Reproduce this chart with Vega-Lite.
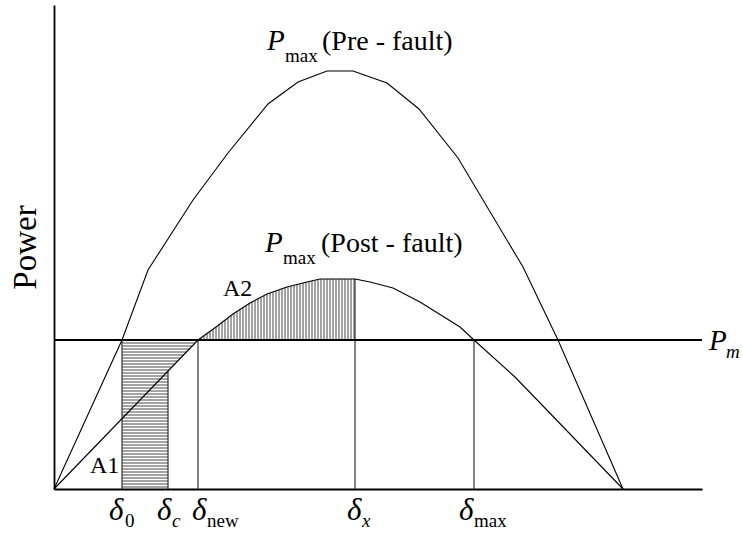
{
  "$schema": "https://vega.github.io/schema/vega-lite/v6.json",
  "width": 648,
  "height": 484,
  "autosize": "none",
  "padding": {"left": 54, "top": 5, "right": 41, "bottom": 46},
  "config": {"view": {"stroke": null}, "font": "Liberation Serif"},
  "datasets": {
    "curves": [
      {"curve": "pre", "x": 0, "y": 0}, {"curve": "pre", "x": 68, "y": 149}, {"curve": "pre", "x": 94, "y": 219},
      {"curve": "pre", "x": 139, "y": 289}, {"curve": "pre", "x": 174, "y": 336}, {"curve": "pre", "x": 214, "y": 385},
      {"curve": "pre", "x": 244, "y": 407}, {"curve": "pre", "x": 273, "y": 418}, {"curve": "pre", "x": 299, "y": 418},
      {"curve": "pre", "x": 333, "y": 406}, {"curve": "pre", "x": 365, "y": 380}, {"curve": "pre", "x": 404, "y": 331},
      {"curve": "pre", "x": 469, "y": 222}, {"curve": "pre", "x": 504, "y": 149}, {"curve": "pre", "x": 569, "y": 0},
      {"curve": "post", "x": 0, "y": 0}, {"curve": "post", "x": 144, "y": 149}, {"curve": "post", "x": 162, "y": 162},
      {"curve": "post", "x": 179, "y": 175}, {"curve": "post", "x": 196, "y": 186}, {"curve": "post", "x": 213, "y": 195},
      {"curve": "post", "x": 233, "y": 202}, {"curve": "post", "x": 253, "y": 207}, {"curve": "post", "x": 266, "y": 210},
      {"curve": "post", "x": 301, "y": 210}, {"curve": "post", "x": 316, "y": 207}, {"curve": "post", "x": 339, "y": 201},
      {"curve": "post", "x": 366, "y": 187}, {"curve": "post", "x": 406, "y": 162}, {"curve": "post", "x": 420, "y": 149},
      {"curve": "post", "x": 461, "y": 112}, {"curve": "post", "x": 489, "y": 83}, {"curve": "post", "x": 569, "y": 0}
    ],
    "pm": [{"x": 0, "x2": 648, "y": 149}],
    "verticals": [
      {"x": 68, "y": 0, "y2": 149}, {"x": 114, "y": 0, "y2": 118}, {"x": 144, "y": 0, "y2": 149},
      {"x": 301, "y": 0, "y2": 210}, {"x": 420, "y": 0, "y2": 149}
    ],
    "hatchA1": [
      {"y": 146, "x": 68, "x2": 141.1}, {"y": 143, "x": 68, "x2": 138.2}, {"y": 140, "x": 68, "x2": 135.3},
      {"y": 137, "x": 68, "x2": 132.4}, {"y": 134, "x": 68, "x2": 129.5}, {"y": 131, "x": 68, "x2": 126.6},
      {"y": 128, "x": 68, "x2": 123.7}, {"y": 125, "x": 68, "x2": 120.8}, {"y": 122, "x": 68, "x2": 117.9},
      {"y": 119, "x": 68, "x2": 115.0}, {"y": 116, "x": 68, "x2": 114}, {"y": 113, "x": 68, "x2": 114},
      {"y": 110, "x": 68, "x2": 114}, {"y": 107, "x": 68, "x2": 114}, {"y": 104, "x": 68, "x2": 114},
      {"y": 101, "x": 68, "x2": 114}, {"y": 98, "x": 68, "x2": 114}, {"y": 95, "x": 68, "x2": 114},
      {"y": 92, "x": 68, "x2": 114}, {"y": 89, "x": 68, "x2": 114}, {"y": 86, "x": 68, "x2": 114},
      {"y": 83, "x": 68, "x2": 114}, {"y": 80, "x": 68, "x2": 114}, {"y": 77, "x": 68, "x2": 114},
      {"y": 74, "x": 68, "x2": 114}, {"y": 71, "x": 68, "x2": 114}, {"y": 68, "x": 68, "x2": 114},
      {"y": 65, "x": 68, "x2": 114}, {"y": 62, "x": 68, "x2": 114}, {"y": 59, "x": 68, "x2": 114},
      {"y": 56, "x": 68, "x2": 114}, {"y": 53, "x": 68, "x2": 114}, {"y": 50, "x": 68, "x2": 114},
      {"y": 47, "x": 68, "x2": 114}, {"y": 44, "x": 68, "x2": 114}, {"y": 41, "x": 68, "x2": 114},
      {"y": 38, "x": 68, "x2": 114}, {"y": 35, "x": 68, "x2": 114}, {"y": 32, "x": 68, "x2": 114},
      {"y": 29, "x": 68, "x2": 114}, {"y": 26, "x": 68, "x2": 114}, {"y": 23, "x": 68, "x2": 114},
      {"y": 20, "x": 68, "x2": 114}, {"y": 17, "x": 68, "x2": 114}, {"y": 14, "x": 68, "x2": 114},
      {"y": 11, "x": 68, "x2": 114}, {"y": 8, "x": 68, "x2": 114}, {"y": 5, "x": 68, "x2": 114},
      {"y": 2, "x": 68, "x2": 114}
    ],
    "hatchA2": [
      {"x": 147, "y": 149, "y2": 151.2}, {"x": 150, "y": 149, "y2": 153.3}, {"x": 153, "y": 149, "y2": 155.5},
      {"x": 156, "y": 149, "y2": 157.7}, {"x": 159, "y": 149, "y2": 159.8}, {"x": 162, "y": 149, "y2": 162},
      {"x": 165, "y": 149, "y2": 164.3}, {"x": 168, "y": 149, "y2": 166.6}, {"x": 171, "y": 149, "y2": 168.9},
      {"x": 174, "y": 149, "y2": 171.2}, {"x": 177, "y": 149, "y2": 173.5}, {"x": 180, "y": 149, "y2": 175.6},
      {"x": 183, "y": 149, "y2": 177.6}, {"x": 186, "y": 149, "y2": 179.5}, {"x": 189, "y": 149, "y2": 181.5},
      {"x": 192, "y": 149, "y2": 183.4}, {"x": 195, "y": 149, "y2": 185.4}, {"x": 198, "y": 149, "y2": 187.1},
      {"x": 201, "y": 149, "y2": 188.6}, {"x": 204, "y": 149, "y2": 190.2}, {"x": 207, "y": 149, "y2": 191.8},
      {"x": 210, "y": 149, "y2": 193.4}, {"x": 213, "y": 149, "y2": 195}, {"x": 216, "y": 149, "y2": 196.1},
      {"x": 219, "y": 149, "y2": 197.1}, {"x": 222, "y": 149, "y2": 198.2}, {"x": 225, "y": 149, "y2": 199.2},
      {"x": 228, "y": 149, "y2": 200.3}, {"x": 231, "y": 149, "y2": 201.3}, {"x": 234, "y": 149, "y2": 202.3},
      {"x": 237, "y": 149, "y2": 203}, {"x": 240, "y": 149, "y2": 203.8}, {"x": 243, "y": 149, "y2": 204.5},
      {"x": 246, "y": 149, "y2": 205.3}, {"x": 249, "y": 149, "y2": 206}, {"x": 252, "y": 149, "y2": 206.8},
      {"x": 255, "y": 149, "y2": 207.5}, {"x": 258, "y": 149, "y2": 208.2}, {"x": 261, "y": 149, "y2": 208.8},
      {"x": 264, "y": 149, "y2": 209.5}, {"x": 267, "y": 149, "y2": 210}, {"x": 270, "y": 149, "y2": 210},
      {"x": 273, "y": 149, "y2": 210}, {"x": 276, "y": 149, "y2": 210}, {"x": 279, "y": 149, "y2": 210},
      {"x": 282, "y": 149, "y2": 210}, {"x": 285, "y": 149, "y2": 210}, {"x": 288, "y": 149, "y2": 210},
      {"x": 291, "y": 149, "y2": 210}, {"x": 294, "y": 149, "y2": 210}, {"x": 297, "y": 149, "y2": 210},
      {"x": 300, "y": 149, "y2": 210}
    ],
    "italicBig": [
      {"text": "P", "x": 213, "y": 439}, {"text": "P", "x": 211, "y": 237}, {"text": "P", "x": 655, "y": 139}
    ],
    "deltas": [
      {"text": "δ", "x": 55, "y": -31}, {"text": "δ", "x": 103, "y": -31}, {"text": "δ", "x": 138, "y": -31},
      {"text": "δ", "x": 293, "y": -31}, {"text": "δ", "x": 405, "y": -31}
    ],
    "subUpright": [
      {"text": "max", "x": 231, "y": 427}, {"text": "max", "x": 229, "y": 225},
      {"text": "0", "x": 71, "y": -38}, {"text": "new", "x": 153, "y": -38}, {"text": "max", "x": 420, "y": -38}
    ],
    "subItalic": [
      {"text": "m", "x": 672, "y": 131}, {"text": "c", "x": 118, "y": -38}, {"text": "x", "x": 308, "y": -38}
    ],
    "normalBig": [
      {"text": "(Pre - fault)", "x": 268, "y": 439}, {"text": "(Post - fault)", "x": 267, "y": 237}
    ],
    "areaLabels": [
      {"text": "A1", "x": 36, "y": 16}, {"text": "A2", "x": 169, "y": 193}
    ]
  },
  "encoding": {
    "x": {"type": "quantitative", "scale": {"domain": [0, 648], "nice": false, "zero": false}},
    "y": {"type": "quantitative", "scale": {"domain": [0, 484], "nice": false, "zero": false}}
  },
  "layer": [
    {
      "data": {"name": "hatchA1"},
      "mark": {"type": "rule", "stroke": "#333", "strokeWidth": 0.9},
      "encoding": {"x": {"field": "x", "type": "quantitative", "axis": {"domain": true, "domainColor": "black", "domainWidth": 1.8, "ticks": false, "labels": false, "grid": false, "title": null}}, "x2": {"field": "x2"}, "y": {"field": "y", "type": "quantitative", "axis": {"domain": true, "domainColor": "black", "domainWidth": 1.8, "ticks": false, "labels": false, "grid": false, "title": "Power", "titleFont": "Liberation Serif", "titleFontSize": 33, "titleFontWeight": "normal", "titleColor": "black", "titlePadding": 12}}}
    },
    {
      "data": {"name": "hatchA2"},
      "mark": {"type": "rule", "stroke": "#333", "strokeWidth": 0.9},
      "encoding": {"x": {"field": "x", "type": "quantitative"}, "y": {"field": "y", "type": "quantitative"}, "y2": {"field": "y2"}}
    },
    {
      "data": {"name": "verticals"},
      "mark": {"type": "rule", "stroke": "#222", "strokeWidth": 1.1},
      "encoding": {"x": {"field": "x", "type": "quantitative"}, "y": {"field": "y", "type": "quantitative"}, "y2": {"field": "y2"}}
    },
    {
      "data": {"name": "pm"},
      "mark": {"type": "rule", "stroke": "black", "strokeWidth": 2},
      "encoding": {"x": {"field": "x", "type": "quantitative"}, "x2": {"field": "x2"}, "y": {"field": "y", "type": "quantitative"}}
    },
    {
      "data": {"name": "curves"},
      "mark": {"type": "line", "stroke": "black", "strokeWidth": 1.1},
      "encoding": {"x": {"field": "x", "type": "quantitative"}, "y": {"field": "y", "type": "quantitative"}, "detail": {"field": "curve"}}
    },
    {
      "data": {"name": "italicBig"},
      "mark": {"type": "text", "font": "Liberation Serif", "fontStyle": "italic", "fontSize": 29, "align": "left", "baseline": "alphabetic", "color": "black"},
      "encoding": {"x": {"field": "x", "type": "quantitative"}, "y": {"field": "y", "type": "quantitative"}, "text": {"field": "text"}}
    },
    {
      "data": {"name": "deltas"},
      "mark": {"type": "text", "font": "Liberation Serif", "fontStyle": "italic", "fontSize": 31, "align": "left", "baseline": "alphabetic", "color": "black"},
      "encoding": {"x": {"field": "x", "type": "quantitative"}, "y": {"field": "y", "type": "quantitative"}, "text": {"field": "text"}}
    },
    {
      "data": {"name": "subUpright"},
      "mark": {"type": "text", "font": "Liberation Serif", "fontSize": 19, "align": "left", "baseline": "alphabetic", "color": "black"},
      "encoding": {"x": {"field": "x", "type": "quantitative"}, "y": {"field": "y", "type": "quantitative"}, "text": {"field": "text"}}
    },
    {
      "data": {"name": "subItalic"},
      "mark": {"type": "text", "font": "Liberation Serif", "fontStyle": "italic", "fontSize": 19, "align": "left", "baseline": "alphabetic", "color": "black"},
      "encoding": {"x": {"field": "x", "type": "quantitative"}, "y": {"field": "y", "type": "quantitative"}, "text": {"field": "text"}}
    },
    {
      "data": {"name": "normalBig"},
      "mark": {"type": "text", "font": "Liberation Serif", "fontSize": 28, "align": "left", "baseline": "alphabetic", "color": "black"},
      "encoding": {"x": {"field": "x", "type": "quantitative"}, "y": {"field": "y", "type": "quantitative"}, "text": {"field": "text"}}
    },
    {
      "data": {"name": "areaLabels"},
      "mark": {"type": "text", "font": "Liberation Serif", "fontSize": 24, "align": "left", "baseline": "alphabetic", "color": "black"},
      "encoding": {"x": {"field": "x", "type": "quantitative"}, "y": {"field": "y", "type": "quantitative"}, "text": {"field": "text"}}
    }
  ]
}
